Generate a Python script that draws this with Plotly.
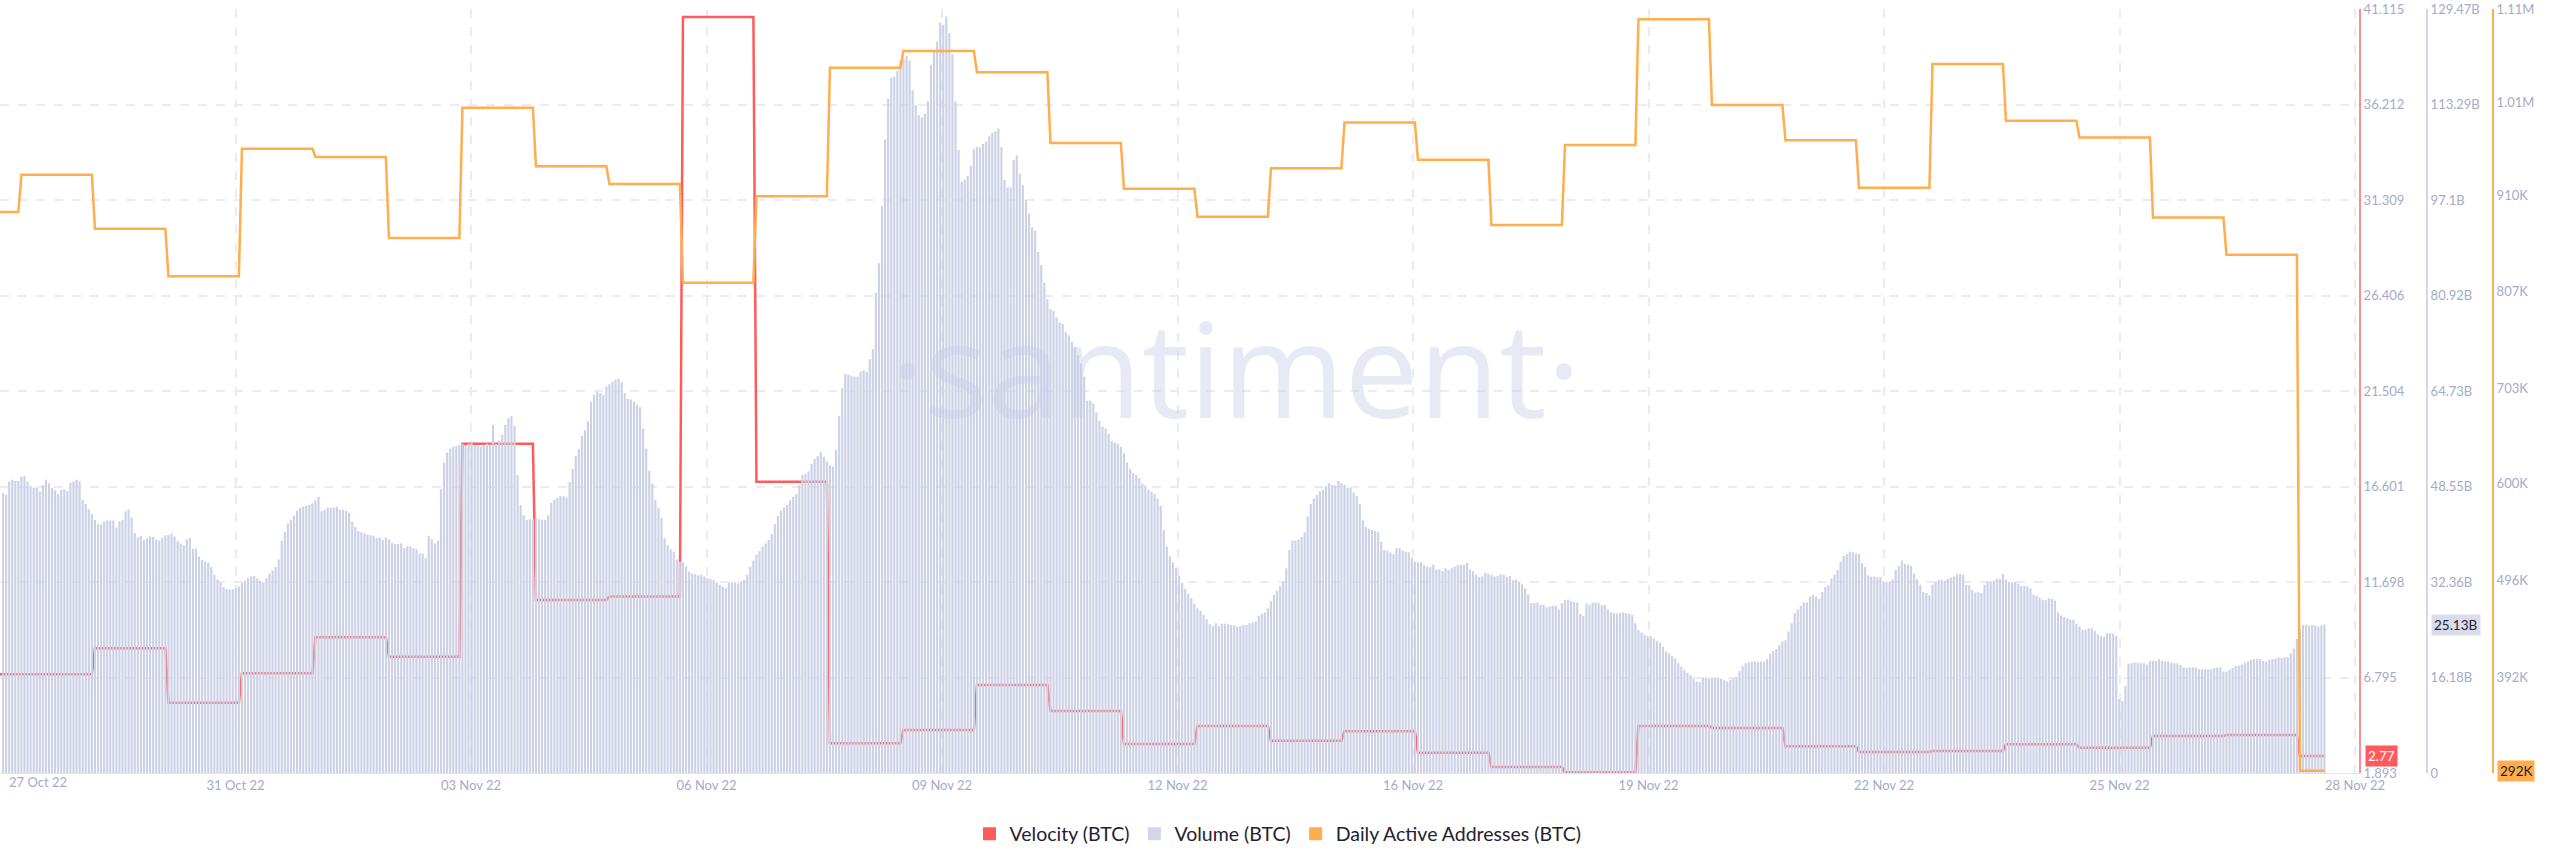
import pandas as pd
import plotly.graph_objects as go

# Santiment BTC chart, hourly volume with daily velocity / active addresses
# volume in billions, read off the picture section by section
volume_a = [47.4, 47.1, 49.4, 49.7, 49.5, 49.5, 50.2, 50.3, 49.4, 48.6, 48.4, 48.3, 47.7, 48.8, 49.7, 49.1, 48.3, 47.9, 47.3, 48.0,
            48.1, 47.8, 49.2, 49.4, 49.7, 49.4, 46.3, 45.6, 44.7, 43.9, 42.9, 42.2, 42.1, 42.6, 42.8, 42.8, 42.8, 41.6, 42.7, 42.9,
            44.3, 44.7, 43.3, 40.7, 39.9, 40.2, 39.5, 39.8, 40.1, 40.0, 39.5, 39.4, 39.9, 40.3, 40.3, 40.6, 40.1, 39.3, 38.9, 38.6,
            39.6, 39.8, 38.0, 38.0, 36.7, 36.1, 35.8, 35.7, 34.9, 33.6, 32.8, 32.3, 31.5, 31.2, 31.1, 31.1, 31.3, 31.6, 32.2, 32.6,
            33.0, 33.3, 33.4, 33.0, 32.6, 32.3, 33.0, 33.8, 34.3, 34.9, 36.2, 39.4, 40.9, 42.3, 42.9, 43.6, 44.4, 44.9, 45.1, 45.3,
            45.4, 45.7, 46.2, 46.8, 44.4, 44.6, 45.0, 44.9, 45.0, 45.1, 44.6, 44.6, 44.4, 44.1, 42.6, 41.7, 41.0, 40.8, 40.6, 40.4,
            40.3, 40.2, 39.8, 39.9, 39.5, 39.9, 39.6, 39.0, 38.8, 38.8, 38.9, 38.1, 38.4, 38.4, 38.1, 37.9, 37.2, 37.2, 36.4, 40.2,
            39.6, 38.9, 39.4, 48.1, 52.6, 54.3, 55.0, 55.3, 55.4,
            55.6, 55.8, 55.6, 55.8, 56.0, 55.6, 55.4, 55.3, 55.4, 55.8, 55.7, 59.0, 55.8, 56.3]
volume_b = [57.3, 59.0, 60.1, 60.5, 58.8, 50.5, 45.4, 43.7, 42.9, 43.0, 43.0, 43.2, 43.0, 42.9, 42.9, 43.7, 45.8, 46.3, 46.6, 46.9,
            46.9, 46.7, 49.3, 51.5, 53.7, 54.9, 57.1, 58.1, 59.6, 62.9, 64.1, 64.6, 64.4, 64.1, 65.5, 65.9, 66.3, 66.7, 66.8, 66.2,
            64.4, 63.4, 63.3, 62.9, 62.4, 62.0, 58.4, 55.0, 51.2, 49.0, 46.3, 44.9, 43.2, 39.8, 38.6, 37.9, 37.5, 36.2, 35.8, 35.7,
            35.0, 34.1, 33.8, 33.7, 33.5, 33.6, 33.3, 33.0, 32.9, 32.7, 32.3, 31.9, 31.6, 31.3, 32.3, 32.3, 32.3, 32.1, 32.3, 32.7,
            33.6, 35.0, 36.0, 37.0, 37.6, 38.4, 38.9, 39.5, 40.5, 42.2, 43.6, 44.5, 45.0, 45.4, 46.2, 46.8, 47.3, 48.8, 50.5, 50.7,
            51.1, 52.4, 53.2, 53.7, 54.4, 53.6, 52.8, 52.2, 51.9, 54.8, 60.5, 65.2, 67.6, 67.5, 67.3, 67.2, 67.2, 68.0, 68.2, 68.0,
            70.1]
volume_c = [71.8, 81.4, 86.4, 96.1, 107.4, 114.2, 117.8, 118.0, 119.0, 120.8, 120.9, 121.5, 120.7, 115.7, 113.2, 111.5, 111.1, 111.7, 113.9, 120.0,
            122.2, 123.9, 127.2, 126.8, 128.2, 125.4, 121.8, 113.8, 105.6, 100.2, 100.5, 101.2, 102.9, 105.7, 106.1, 106.0, 106.6, 107.0, 107.9, 108.5,
            108.7, 109.2, 106.1, 100.5, 99.2, 99.2, 103.9, 104.7, 101.6, 99.6, 97.1, 94.8, 92.5, 91.9, 88.3, 86.1, 83.1, 80.3, 78.6, 78.3,
            77.2, 76.3, 76.1, 74.7, 74.2, 73.1, 72.2, 70.8, 69.4, 67.2]
volume_d = [63.1, 63.1, 62.6, 61.1, 59.7, 58.7, 58.4, 57.5, 56.2, 56.0, 55.8, 55.3, 54.2, 52.6, 51.5, 50.8, 50.5, 50.0, 49.0, 48.7,
            48.0, 47.7, 47.3, 46.5, 45.3, 41.2, 38.4, 36.7, 35.7, 34.7, 33.4, 32.2, 31.2, 30.4, 29.6, 28.7, 27.9, 27.5, 26.8, 26.1,
            25.2, 24.9, 25.4, 24.9, 25.3, 25.3, 25.2, 25.1, 25.0, 24.8, 24.9, 25.1, 25.1, 25.4, 25.5, 25.7, 26.6, 27.0, 27.2, 27.9,
            29.1, 30.2, 30.9, 31.7, 32.5, 34.7, 37.8, 39.4, 39.4, 39.6, 40.0, 40.8, 43.5, 45.6, 46.5, 47.1, 47.7, 48.0, 48.6, 49.1,
            48.8, 48.7, 49.5, 49.1, 48.8, 48.4, 48.3, 47.5, 47.0, 45.6, 42.8, 41.7, 41.4, 41.2, 41.0, 40.8, 39.2, 37.8, 37.7, 37.4,
            37.1, 38.1, 38.1, 37.7, 37.5, 37.4, 36.4, 35.8, 35.7, 35.7, 35.2, 35.0, 34.9, 35.3, 34.5, 34.5, 34.2, 34.7, 34.4, 34.7,
            35.0, 35.2, 35.3, 35.3, 35.6, 34.5, 34.2, 33.6, 33.2, 33.3, 33.9, 33.8, 33.6, 33.3, 33.4]
volume_e = [33.7, 33.6, 33.2, 33.4, 32.7, 32.8, 32.3, 32.0, 31.3, 30.2, 28.8, 28.8, 28.9, 28.5, 28.5, 28.1, 28.2, 28.3, 28.3, 27.7,
            28.8, 29.3, 29.4, 29.2, 29.0, 28.9, 27.0, 26.6, 28.7, 28.5, 28.9, 28.9, 28.8, 28.4, 28.5, 27.7, 27.2, 27.1, 27.0, 27.1,
            27.2, 27.1, 27.0, 26.8, 25.4, 24.2, 23.8, 23.4, 23.2, 23.2, 22.8, 22.4, 22.1, 21.4, 20.6, 20.3, 19.8, 19.4, 18.6, 18.0,
            17.5, 17.0, 16.6, 15.9, 15.5, 15.4, 16.2, 16.2, 16.1, 16.0, 16.0, 16.1, 16.0, 15.7, 15.5, 15.8, 16.0, 16.3, 17.3, 18.1,
            18.6, 18.8, 18.9, 18.9, 18.8, 18.9, 18.9, 19.3, 20.2, 20.7, 21.0, 21.7, 22.3, 22.5, 24.0, 25.4, 27.1, 27.7, 28.3, 28.9,
            28.9, 29.9, 30.2, 29.9, 29.5, 30.7, 31.5, 31.8, 33.0, 33.6, 34.4, 35.8, 36.8, 37.1, 37.5, 37.4, 37.2, 37.1, 35.6, 34.9,
            33.5, 33.3, 33.3, 33.2, 33.2, 32.5, 32.4, 32.4, 32.8, 34.4, 35.1, 36.0, 35.4, 35.3, 35.1, 33.8, 32.8, 31.9, 30.7, 30.5,
            30.1, 31.9, 32.4, 32.7, 32.7, 32.6, 32.9, 33.1, 33.3, 33.7, 33.7, 33.6, 31.9, 31.8, 31.0, 30.6, 30.6, 30.5, 31.9, 32.4,
            32.5, 32.6, 32.9]
volume_f = [32.9, 33.7, 32.8, 32.4, 32.3, 32.4, 32.1, 31.7, 31.7, 31.6, 31.3, 30.2, 30.0, 29.7, 29.3, 29.3, 29.6, 29.5, 29.2, 27.2,
            26.7, 26.4, 26.2, 26.0, 26.0, 25.3, 24.8, 24.3, 24.3, 24.5, 24.5, 24.1, 23.5, 23.2, 23.1, 23.7, 23.7, 23.6, 23.2,
            12.5, 12.2, 14.8, 18.5, 18.6, 18.7, 18.7, 18.6, 18.6, 18.4, 19.0, 19.0, 19.0, 19.3, 19.0, 18.9, 18.9, 18.7, 18.6, 18.6,
            18.3, 17.9, 17.8, 17.9, 17.9, 17.9, 17.6, 17.6, 17.6, 17.5, 17.6, 17.8, 17.9, 17.9, 17.2, 17.2, 17.5, 17.8, 18.1, 18.2,
            18.4, 18.7, 18.9, 19.2, 19.3, 19.3, 19.3, 19.0, 18.9, 19.2, 19.3, 19.4, 19.6, 19.5, 19.6, 19.6, 20.3, 21.1, 22.7, 24.3,
            25.1, 25.1, 25.0, 25.1, 25.0, 24.8, 25.0, 25.13]
volume_values = volume_a + volume_b + volume_c + volume_d + volume_e + volume_f

# daily levels, first one is cut off by the left edge
velocity_values = [6.96, 6.96, 8.3, 5.50, 7.01, 8.86, 7.86, 18.8, 10.77, 10.96, 40.7, 16.85, 3.42, 4.10, 6.41, 5.08, 3.38,
                   4.31, 3.55, 4.03, 2.93, 2.20, 1.93, 4.31, 4.2, 3.26, 2.97, 3.02, 3.37, 3.19, 3.79, 3.84, 2.77]
daa_values = [892, 932, 874, 823, 960, 951, 864, 1004, 941, 922, 816, 909, 1047, 1065, 1042, 966, 917, 887, 939, 988, 948,
              878, 964, 1099, 1007, 969, 918, 1051, 990, 972, 886, 846, 292]

date_ticks = ["2022-10-27 20:00", "2022-10-31 00:54", "2022-11-03 05:48", "2022-11-06 10:42", "2022-11-09 15:36", "2022-11-12 20:30",
              "2022-11-16 01:24", "2022-11-19 06:18", "2022-11-22 11:12", "2022-11-25 16:06", "2022-11-28 21:00"]
date_labels = ["", "31 Oct 22", "03 Nov 22", "06 Nov 22", "09 Nov 22", "12 Nov 22", "16 Nov 22", "19 Nov 22", "22 Nov 22", "25 Nov 22", "28 Nov 22"]

velocity_ticks = [1.893, 6.795, 11.698, 16.601, 21.504, 26.406, 31.309, 36.212, 41.115]
volume_ticks = [0, 16.18, 32.36, 48.55, 64.73, 80.92, 97.1, 113.29, 129.47]
volume_labels = ["0", "16.18B", "32.36B", "48.55B", "64.73B", "80.92B", "97.1B", "113.29B", "129.47B"]
daa_ticks = [392, 496, 600, 703, 807, 910, 1010, 1110]
daa_labels = ["392K", "496K", "600K", "703K", "807K", "910K", "1.01M", "1.11M"]

RED = "#FF5B5B"
LAVENDER = "#D2D6E8"
ORANGE = "#FFAD4D"
TICK_COLOR = "#A3ABC8"
GRID_COLOR = "#E9EBF5"
FONT = "Lato"
W = 2560


def steps(levels):
    # each daily level is held 23h, then a one hour ramp to the next one
    xs, ys = [pd.Timestamp("2022-10-27 20:00")], [levels[0]]
    day = pd.Timestamp("2022-10-28 03:00")
    xs.append(day - pd.Timedelta(hours=1))
    ys.append(levels[0])
    for lvl in levels[1:]:
        end = min(day + pd.Timedelta(hours=23), pd.Timestamp("2022-11-28 11:00"))
        xs += [day, end]
        ys += [lvl, lvl]
        day += pd.Timedelta(hours=24)
    return xs, ys


hours = pd.date_range("2022-10-27 21:00", periods=len(volume_values), freq="h")
vel_x, vel_y = steps(velocity_values)
daa_x, daa_y = steps(daa_values)

fig = go.Figure()
fig.add_trace(go.Bar(x=hours, y=volume_values, yaxis="y2", marker_color="#CDD1E6", marker_line_width=0, showlegend=False))
fig.add_trace(go.Scatter(x=daa_x, y=daa_y, yaxis="y3", mode="lines", line=dict(color=ORANGE, width=2.5), showlegend=False))
fig.add_trace(go.Scatter(x=vel_x, y=vel_y, yaxis="y", mode="lines", line=dict(color=RED, width=2.5), showlegend=False))

# square legend keys, same look for the lines and the bars
for name, color in [("Velocity (BTC)", RED), ("Volume (BTC)", LAVENDER), ("Daily Active Addresses (BTC)", ORANGE)]:
    fig.add_trace(go.Scatter(x=[None], y=[None], mode="markers", name=name,
                             marker=dict(symbol="square", size=13, color=color)))

tick_font = dict(family=FONT, size=13, color=TICK_COLOR)
badge_size = 13.5


def side_axis(ticks, labels, rng, color, pos, **kw):
    return dict(range=rng, tickvals=ticks, ticktext=labels, tickfont=tick_font, side="right", anchor="free",
                position=pos / W, overlaying=kw.pop("overlaying", None), showline=True, linecolor=color, linewidth=2,
                ticks="", zeroline=False, ticklabeloverflow="allow", **kw)


fig.update_layout(
    width=W,
    height=867,
    margin=dict(l=0, r=0, t=9, b=94, autoexpand=False),
    paper_bgcolor="white",
    plot_bgcolor="white",
    bargap=0.3,
    xaxis=dict(domain=[0, 2360 / W], type="date", range=["2022-10-27 20:00", "2022-11-28 22:36"],
               tickvals=date_ticks, ticktext=date_labels, tickfont=tick_font, ticks="",
               showgrid=True, gridcolor=GRID_COLOR, gridwidth=1.5, griddash="9px,9px",
               showline=True, linecolor="#E0E3F0", linewidth=1, zeroline=False),
    yaxis=side_axis(velocity_ticks, [str(v) for v in velocity_ticks], [1.893, 41.115], "#FF8F8F", 2360,
                    showgrid=True, gridcolor=GRID_COLOR, gridwidth=1.5, griddash="9px,9px"),
    yaxis2=side_axis(volume_ticks, volume_labels, [0, 129.47], LAVENDER, 2427, overlaying="y", showgrid=False),
    yaxis3=side_axis(daa_ticks, daa_labels, [289.5, 1110], ORANGE, 2493, overlaying="y", showgrid=False),
    legend=dict(orientation="h", x=1278 / W, xanchor="center", y=-0.08, yanchor="middle",
                font=dict(family=FONT, size=19.5, color="#1F2233"), itemwidth=30),
    annotations=[
        dict(text="·santiment·", xref="paper", yref="paper", x=1235 / W, y=0.531, showarrow=False,
             font=dict(family="Open Sans", size=132, color="rgba(198,205,230,0.42)")),
        dict(text="27 Oct 22", xref="paper", yref="paper", x=7 / W, xanchor="left", y=-0.0, yshift=-19,
             showarrow=False, font=tick_font),
        dict(text="2.77", xref="paper", yref="y", x=2381 / W, xanchor="center", y=2.77, showarrow=False, bgcolor=RED,
             font=dict(family=FONT, size=badge_size, color="white"), borderpad=2),
        dict(text="25.13B", xref="paper", yref="y2", x=2456 / W, xanchor="center", y=25.13, showarrow=False, bgcolor="#D9DCEB",
             font=dict(family=FONT, size=badge_size, color="#1F2233"), borderpad=2),
        dict(text="292K", xref="paper", yref="y3", x=2516 / W, xanchor="center", y=292, showarrow=False, bgcolor=ORANGE,
             font=dict(family=FONT, size=badge_size, color="#1F2233"), borderpad=2),
    ],
)

# drop the default body margin so the plot starts at the window edge
fig.write_html("out.html", config={"displayModeBar": False}, post_script="document.body.style.margin='0';")
